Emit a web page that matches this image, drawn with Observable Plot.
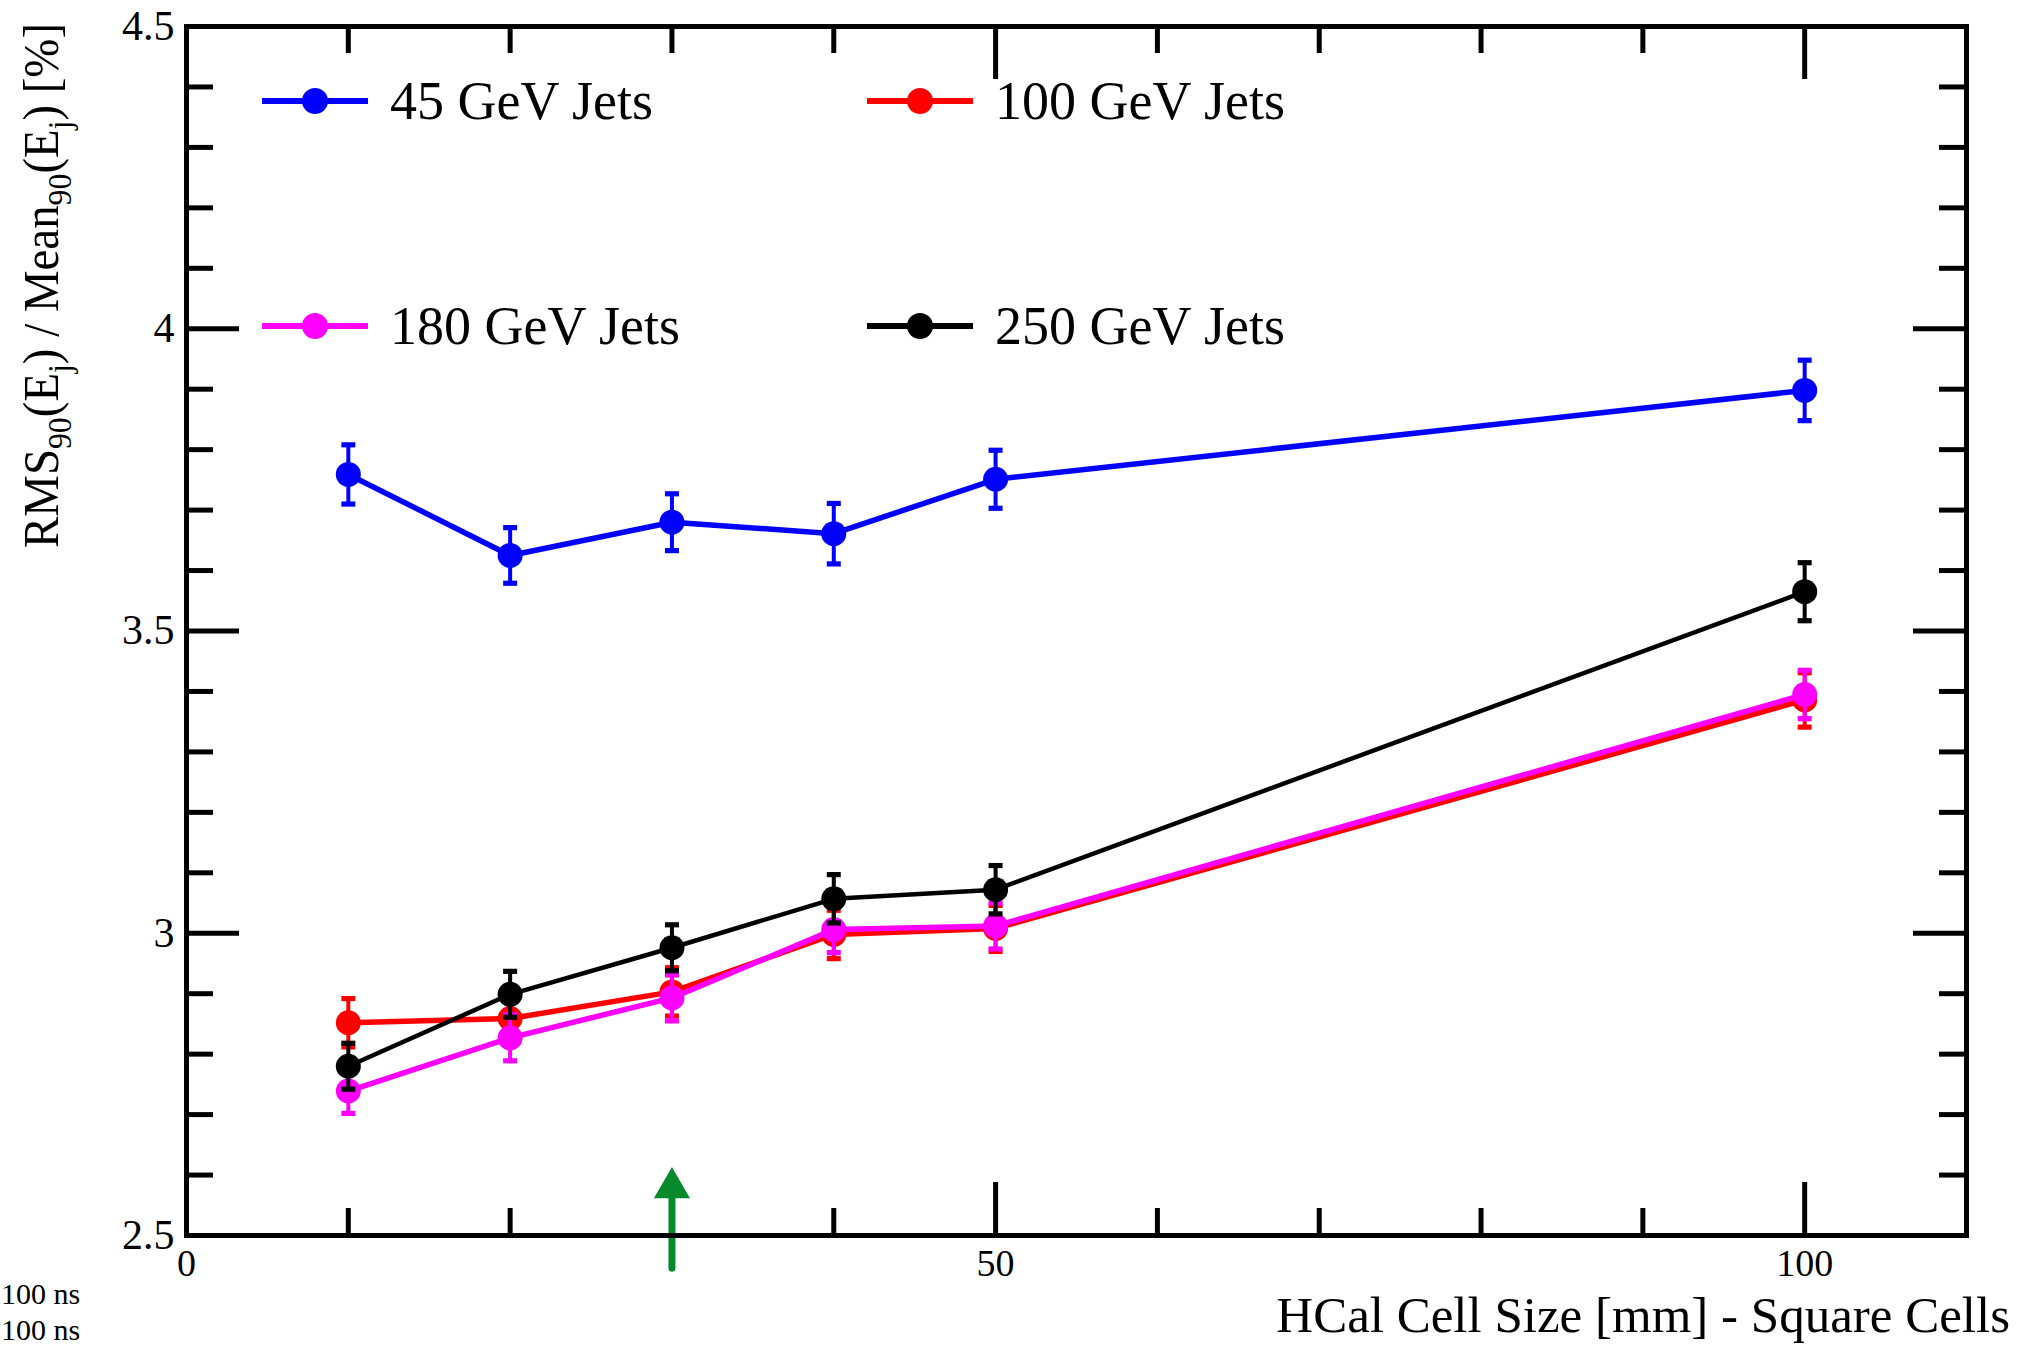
<!DOCTYPE html>
<html>
<head>
<meta charset="utf-8">
<script src="https://cdn.jsdelivr.net/npm/d3@7"></script>
<script src="https://cdn.jsdelivr.net/npm/@observablehq/plot@0.6"></script>
<style>
  html, body { margin: 0; padding: 0; background: #fff; }
  #wrap { position: relative; width: 2023px; height: 1345px; overflow: hidden; font-family: "Liberation Serif", "Times New Roman", serif; }
  .entry { position: absolute; display: flex; align-items: center; }
  .entry span { font-size: 54px; line-height: 1; margin-left: 22px; color: #000; white-space: nowrap; }
</style>
</head>
<body>
<div id="wrap"></div>
<script>
// ---- data ----
const cellSize = [10, 20, 30, 40, 50, 100];
const series = ["45 GeV Jets", "100 GeV Jets", "180 GeV Jets", "250 GeV Jets"];
const colors = ["#0000ff", "#ff0000", "#ff00ff", "#000000"];
const res45  = [3.759, 3.625, 3.680, 3.661, 3.751, 3.898];
const err45  = [0.049, 0.046, 0.047, 0.050, 0.048, 0.050];
const res100 = [2.852, 2.859, 2.903, 2.998, 3.008, 3.386];
const err100 = [0.040, 0.038, 0.040, 0.040, 0.038, 0.045];
const res180 = [2.739, 2.827, 2.893, 3.006, 3.012, 3.395];
const err180 = [0.037, 0.038, 0.038, 0.038, 0.038, 0.040];
const res250 = [2.780, 2.899, 2.976, 3.057, 3.072, 3.565];
const err250 = [0.038, 0.038, 0.038, 0.040, 0.040, 0.048];
const xMajorTicks = [0, 50, 100];
const xMinorTicks = [10, 20, 30, 40, 60, 70, 80, 90];
const yMajorTicks = [2.5, 3, 3.5, 4, 4.5];
const yMinorTicks = [2.6, 2.7, 2.8, 2.9, 3.1, 3.2, 3.3, 3.4, 3.6, 3.7, 3.8, 3.9, 4.1, 4.2, 4.3, 4.4];
const arrowCell = [30];
const arrowStem = [2.445, 2.565];
const arrowHead = [2.579];
const xLabel = "HCal Cell Size [mm] - Square Cells";
const sideNotes = ["100 ns", "100 ns"];

const values = [res45, res100, res180, res250];
const errors = [err45, err100, err180, err250];

const W = 2023, H = 1345;
const mL = 186, mR = 57, mT = 26, mB = 110;
const fW = W - mL - mR, fH = H - mT - mB;
const major = 53, minor = 27;
const font = '"Liberation Serif", "Times New Roman", serif';

const capSymbol = { draw(ctx) { ctx.rect(-7, -2.6, 14, 5.2); } };

const seriesMarks = series.flatMap((s, i) => {
  const rows = cellSize.map((x, j) => ({ x, y: values[i][j], lo: values[i][j] - errors[i][j], hi: values[i][j] + errors[i][j] }));
  const c = colors[i];
  return [
    Plot.line(rows, { x: "x", y: "y", stroke: c, strokeWidth: i === 3 ? 4.5 : 5.5 }),
    Plot.ruleX(rows, { x: "x", y1: "lo", y2: "hi", stroke: c, strokeWidth: 4 }),
    Plot.dot(rows, { x: "x", y: "lo", symbol: capSymbol, fill: c }),
    Plot.dot(rows, { x: "x", y: "hi", symbol: capSymbol, fill: c }),
    Plot.dot(rows, { x: "x", y: "y", r: 12.5, fill: c })
  ];
});

const chart = Plot.plot({
  width: W, height: H,
  marginLeft: mL, marginRight: mR, marginTop: mT, marginBottom: mB,
  x: { domain: [0, 110] },
  y: { domain: [2.5, 4.5] },
  style: { fontFamily: font, background: "white", overflow: "visible", color: "black" },
  marks: [
    // inward ticks on all four sides
    Plot.tickY(yMinorTicks, { y: d => d, insetRight: fW - minor, stroke: "black", strokeWidth: 5 }),
    Plot.tickY(yMinorTicks, { y: d => d, insetLeft: fW - minor, stroke: "black", strokeWidth: 5 }),
    Plot.tickY(yMajorTicks, { y: d => d, insetRight: fW - major, stroke: "black", strokeWidth: 5 }),
    Plot.tickY(yMajorTicks, { y: d => d, insetLeft: fW - major, stroke: "black", strokeWidth: 5 }),
    Plot.tickX(xMinorTicks, { x: d => d, insetTop: fH - minor, stroke: "black", strokeWidth: 5 }),
    Plot.tickX(xMinorTicks, { x: d => d, insetBottom: fH - minor, stroke: "black", strokeWidth: 5 }),
    Plot.tickX(xMajorTicks, { x: d => d, insetTop: fH - major, stroke: "black", strokeWidth: 5 }),
    Plot.tickX(xMajorTicks, { x: d => d, insetBottom: fH - major, stroke: "black", strokeWidth: 5 }),
    Plot.axisX(xMajorTicks, { tickSize: 0, tickPadding: 14, fontSize: 38, fontFamily: font, label: null, tickFormat: d => String(d) }),
    Plot.axisY(yMajorTicks, { tickSize: 0, tickPadding: 12, fontSize: 42, fontFamily: font, label: null, tickFormat: d => String(d) }),
    ...seriesMarks,
    // green arrow marking the chosen cell size
    Plot.ruleX(arrowCell, { x: d => d, y1: arrowStem[0], y2: arrowStem[1], stroke: "#07892c", strokeWidth: 7, strokeLinecap: "round" }),
    Plot.dot(arrowCell, { x: d => d, y: arrowHead[0], symbol: "triangle", r: 13.4, fill: "#07892c" }),
    Plot.frame({ stroke: "black", strokeWidth: 5 })
  ]
});

const wrap = document.getElementById("wrap");
wrap.appendChild(chart);
const svg = d3.select(chart);
svg.selectAll("text").attr("font-family", font);

// y-axis title with subscripts
const yt = svg.append("text")
  .attr("transform", "translate(58,548) rotate(-90)")
  .attr("text-anchor", "start")
  .attr("font-family", font).attr("font-size", 50).attr("fill", "black");
const parts = [["RMS", 0], ["90", 1], ["(E", 0], ["j", 1], [")", 0], [" / Mean", 0], ["90", 1], ["(E", 0], ["j", 1], [") [%]", 0]];
let prevSub = 0;
for (const [txt, sub] of parts) {
  const ts = yt.append("tspan").text(txt);
  const dy = (sub - prevSub) * 13;
  if (dy) ts.attr("dy", dy);
  if (sub) ts.attr("font-size", 34);
  prevSub = sub;
}
yt.attr("textLength", 525).attr("lengthAdjust", "spacingAndGlyphs");

// x-axis title
svg.append("text").attr("x", 2010).attr("y", 1332).attr("text-anchor", "end")
  .attr("font-family", font).attr("font-size", 51).attr("fill", "black").text(xLabel);

// notes at bottom-left
sideNotes.forEach((t, i) => {
  svg.append("text").attr("x", 1).attr("y", i === 0 ? 1304 : 1340).attr("text-anchor", "start")
    .attr("font-family", font).attr("font-size", 30).attr("fill", "black").text(t);
});

// legend (inside the frame, 2 x 2)
const legendPos = [[262, 74], [867, 74], [262, 299], [867, 299]];
series.forEach((s, i) => {
  const e = document.createElement("div");
  e.className = "entry";
  e.style.left = legendPos[i][0] + "px";
  e.style.top = legendPos[i][1] + "px";
  e.innerHTML = `<svg width="106" height="28"><line x1="0" x2="106" y1="14" y2="14" stroke="${colors[i]}" stroke-width="6"/><circle cx="53" cy="14" r="13" fill="${colors[i]}"/></svg><span>${s}</span>`;
  wrap.appendChild(e);
});
</script>
</body>
</html>
